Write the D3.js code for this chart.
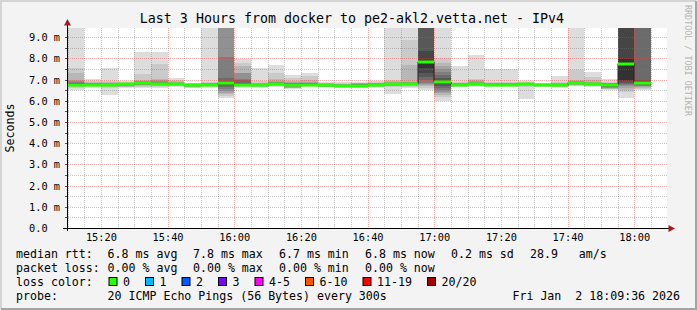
<!DOCTYPE html>
<html>
<head>
<meta charset="utf-8">
<script src="https://cdn.jsdelivr.net/npm/d3@7"></script>
<style>
  html, body { margin: 0; padding: 0; background: #f3f3f3; }
  svg { display: block; font-family: "DejaVu Sans Mono", monospace; }
  text { white-space: pre; }
</style>
</head>
<body>
<svg id="chart" width="697" height="310"></svg>
<script>
var title = "Last 3 Hours from docker to pe2-akl2.vetta.net - IPv4";

// start of each 5 minute step
var binTimes = ["15:10", "15:15", "15:20", "15:25", "15:30", "15:35", "15:40", "15:45", "15:50", "15:55",
    "16:00", "16:05", "16:10", "16:15", "16:20", "16:25", "16:30", "16:35", "16:40", "16:45",
    "16:50", "16:55", "17:00", "17:05", "17:10", "17:15", "17:20", "17:25", "17:30", "17:35",
    "17:40", "17:45", "17:50", "17:55", "18:00"];

// median rtt per step (ms)
var median = [6.76, 6.76, 6.76, 6.77, 6.84, 6.81, 6.78, 6.72, 6.76, 6.83,
    6.76, 6.72, 6.80, 6.76, 6.76, 6.72, 6.70, 6.69, 6.76, 6.78,
    6.80, 7.84, 6.89, 6.76, 6.80, 6.76, 6.76, 6.78, 6.74, 6.72,
    6.85, 6.77, 6.76, 7.75, 6.86];

// 20 sorted ping times per step (ms), used for the smoke
var pings = [
    [6.51, 6.58, 6.64, 6.68, 6.71, 6.73, 6.74, 6.75, 6.76, 6.77, 6.78, 6.80, 6.82, 6.85, 6.90, 6.95, 7.00, 7.33, 7.56, 10.8],
    [6.62, 6.66, 6.69, 6.71, 6.72, 6.73, 6.74, 6.75, 6.76, 6.76, 6.77, 6.78, 6.79, 6.80, 6.82, 6.84, 6.86, 6.88, 6.92, 7.04],
    [6.27, 6.62, 6.66, 6.69, 6.71, 6.72, 6.73, 6.74, 6.75, 6.76, 6.77, 6.78, 6.79, 6.80, 6.81, 6.83, 6.85, 6.88, 6.93, 7.56],
    [6.60, 6.64, 6.67, 6.69, 6.71, 6.72, 6.73, 6.74, 6.75, 6.76, 6.77, 6.78, 6.79, 6.80, 6.81, 6.82, 6.84, 6.86, 6.88, 6.93],
    [6.60, 6.66, 6.70, 6.73, 6.75, 6.77, 6.79, 6.80, 6.82, 6.83, 6.85, 6.86, 6.87, 6.88, 6.90, 6.92, 6.95, 7.00, 7.25, 8.30],
    [6.62, 6.67, 6.70, 6.72, 6.74, 6.76, 6.77, 6.78, 6.79, 6.80, 6.82, 6.83, 6.84, 6.86, 6.88, 6.92, 6.98, 7.04, 7.72, 8.30],
    [6.65, 6.68, 6.70, 6.72, 6.73, 6.74, 6.75, 6.76, 6.77, 6.78, 6.79, 6.80, 6.81, 6.82, 6.84, 6.86, 6.88, 6.92, 6.98, 7.09],
    [6.58, 6.62, 6.65, 6.67, 6.68, 6.69, 6.70, 6.70, 6.71, 6.72, 6.72, 6.73, 6.74, 6.75, 6.76, 6.77, 6.78, 6.80, 6.82, 6.86],
    [6.62, 6.66, 6.69, 6.71, 6.72, 6.73, 6.74, 6.75, 6.76, 6.76, 6.77, 6.78, 6.79, 6.80, 6.81, 6.82, 6.84, 6.86, 6.90, 11.2],
    [6.15, 6.22, 6.30, 6.38, 6.45, 6.55, 6.65, 6.72, 6.78, 6.82, 6.85, 6.88, 6.95, 7.06, 8.05, 10.1, 11.0, 12.4, 13.8, 16.2],
    [6.60, 6.64, 6.68, 6.70, 6.72, 6.73, 6.74, 6.75, 6.76, 6.76, 6.77, 6.79, 6.85, 7.00, 7.04, 7.30, 7.33, 7.64, 7.77, 7.96],
    [6.62, 6.65, 6.67, 6.68, 6.69, 6.70, 6.71, 6.71, 6.72, 6.72, 6.73, 6.74, 6.75, 6.76, 6.78, 6.80, 6.83, 6.86, 6.92, 7.56],
    [6.65, 6.68, 6.70, 6.72, 6.74, 6.76, 6.77, 6.78, 6.79, 6.80, 6.81, 6.82, 6.83, 6.85, 6.87, 6.90, 6.95, 7.04, 7.30, 7.70],
    [6.55, 6.58, 6.60, 6.62, 6.65, 6.68, 6.70, 6.72, 6.74, 6.76, 6.77, 6.78, 6.80, 6.82, 6.84, 6.86, 6.90, 6.93, 7.05, 7.22],
    [6.65, 6.68, 6.70, 6.72, 6.73, 6.74, 6.75, 6.76, 6.76, 6.77, 6.78, 6.79, 6.80, 6.82, 6.84, 6.86, 6.90, 6.98, 7.17, 7.33],
    [6.62, 6.64, 6.66, 6.67, 6.68, 6.69, 6.70, 6.71, 6.72, 6.72, 6.73, 6.74, 6.75, 6.76, 6.77, 6.78, 6.80, 6.82, 6.85, 6.90],
    [6.62, 6.64, 6.65, 6.66, 6.67, 6.68, 6.69, 6.69, 6.70, 6.70, 6.71, 6.72, 6.72, 6.73, 6.74, 6.76, 6.78, 6.80, 6.83, 6.88],
    [6.58, 6.61, 6.63, 6.65, 6.66, 6.67, 6.68, 6.69, 6.69, 6.70, 6.71, 6.72, 6.74, 6.76, 6.78, 6.80, 6.82, 6.84, 6.86, 6.88],
    [6.60, 6.64, 6.67, 6.69, 6.71, 6.72, 6.73, 6.74, 6.75, 6.76, 6.77, 6.78, 6.79, 6.80, 6.81, 6.82, 6.84, 6.86, 6.88, 6.93],
    [6.31, 6.64, 6.68, 6.70, 6.72, 6.73, 6.74, 6.75, 6.77, 6.78, 6.79, 6.80, 6.81, 6.82, 6.84, 6.86, 6.88, 6.92, 6.98, 10.6],
    [6.62, 6.66, 6.70, 6.72, 6.74, 6.76, 6.77, 6.78, 6.79, 6.80, 6.81, 6.82, 6.83, 6.84, 6.86, 6.88, 6.90, 7.67, 8.87, 10.9],
    [6.50, 6.60, 6.70, 6.75, 6.80, 6.86, 6.96, 7.10, 7.33, 7.56, 7.90, 8.35, 9.80, 10.5, 11.2, 12.0, 13.1, 14.5, 16.0, 19.0],
    [6.00, 6.20, 6.28, 6.35, 6.42, 6.50, 6.60, 6.70, 6.80, 6.88, 6.90, 6.95, 7.05, 7.20, 7.35, 7.50, 7.65, 7.80, 8.03, 11.0],
    [6.64, 6.67, 6.70, 6.72, 6.73, 6.74, 6.75, 6.75, 6.76, 6.76, 6.77, 6.78, 6.79, 6.80, 6.81, 6.82, 6.84, 6.86, 6.90, 7.64],
    [6.65, 6.68, 6.71, 6.73, 6.75, 6.76, 6.77, 6.78, 6.79, 6.80, 6.81, 6.82, 6.83, 6.84, 6.86, 6.88, 6.92, 6.98, 7.04, 8.14],
    [6.67, 6.69, 6.71, 6.72, 6.73, 6.74, 6.75, 6.75, 6.76, 6.76, 6.77, 6.78, 6.79, 6.80, 6.81, 6.82, 6.84, 6.86, 6.88, 7.49],
    [6.66, 6.69, 6.71, 6.72, 6.73, 6.74, 6.75, 6.75, 6.76, 6.76, 6.77, 6.78, 6.79, 6.80, 6.81, 6.82, 6.84, 6.86, 6.88, 7.49],
    [6.08, 6.66, 6.70, 6.72, 6.73, 6.74, 6.75, 6.76, 6.77, 6.78, 6.78, 6.79, 6.80, 6.81, 6.82, 6.83, 6.84, 6.86, 6.88, 6.92],
    [6.64, 6.66, 6.68, 6.69, 6.70, 6.71, 6.72, 6.72, 6.73, 6.73, 6.74, 6.74, 6.75, 6.76, 6.77, 6.78, 6.79, 6.80, 6.82, 6.85],
    [6.62, 6.65, 6.67, 6.68, 6.69, 6.70, 6.71, 6.71, 6.72, 6.72, 6.73, 6.74, 6.75, 6.76, 6.78, 6.80, 6.82, 6.85, 6.90, 7.17],
    [6.68, 6.71, 6.74, 6.76, 6.78, 6.80, 6.81, 6.82, 6.83, 6.84, 6.85, 6.86, 6.87, 6.88, 6.90, 6.92, 6.95, 7.00, 7.44, 10.3],
    [6.65, 6.68, 6.70, 6.72, 6.73, 6.74, 6.75, 6.76, 6.77, 6.77, 6.78, 6.79, 6.80, 6.82, 6.84, 6.86, 6.90, 6.96, 7.10, 7.36],
    [6.50, 6.54, 6.57, 6.60, 6.62, 6.64, 6.66, 6.68, 6.70, 6.72, 6.76, 6.78, 6.80, 6.81, 6.82, 6.83, 6.84, 6.86, 6.90, 7.01],
    [6.15, 6.40, 6.50, 6.60, 6.70, 6.75, 6.80, 6.85, 6.95, 7.00, 7.95, 9.80, 10.4, 11.2, 12.5, 13.8, 15.0, 16.5, 18.0, 21.0],
    [6.50, 6.55, 6.60, 6.65, 6.68, 6.70, 6.75, 6.78, 6.80, 6.85, 6.88, 6.92, 7.00, 9.70, 10.5, 11.8, 12.9, 14.5, 16.0, 18.0]
];

var yTicks = [0, 1, 2, 3, 4, 5, 6, 7, 8, 9];
var xLabels = ["15:20", "15:40", "16:00", "16:20", "16:40", "17:00", "17:20", "17:40", "18:00"];

var rttStats = ["6.8 ms avg", "7.8 ms max", "6.7 ms min", "6.8 ms now", "0.2 ms sd", "28.9   am/s"];
var lossStats = ["0.00 % avg", "0.00 % max", "0.00 % min", "0.00 % now"];
var lossNames = ["0", "1", "2", "3", "4-5", "6-10", "11-19", "20/20"];
var lossColors = ["#26ff00", "#00b8ff", "#0059ff", "#7e00ff", "#ff00ff", "#ff5500", "#ff0000", "#a10000"];
var probeText = "20 ICMP Echo Pings (56 Bytes) every 300s";
var stampText = "Fri Jan  2 18:09:36 2026";

function t(s) {
    var p = s.split(":");
    return new Date(2026, 0, 2, +p[0], +p[1]);
}

window.onload = function drawChart() {
    var svg = d3.select("#chart");
    var W = 697, H = 310;
    var left = 67, top = 28, right = 667, bottom = 228;

    var x = d3.scaleTime()
        .domain([new Date(2026, 0, 2, 15, 9, 50), new Date(2026, 0, 2, 18, 9, 50)])
        .range([left, right]);
    var y = d3.scaleLinear().domain([0, 9.43]).range([bottom, top]);

    // frame
    svg.append("rect").attr("width", W).attr("height", H).attr("fill", "#f3f3f3");
    svg.append("path").attr("d", "M1,309V1H696").attr("fill", "none").attr("stroke", "#d4d4d4").attr("stroke-width", 2);
    svg.append("path").attr("d", "M1,309H696V1").attr("fill", "none").attr("stroke", "#a4a4a4").attr("stroke-width", 2);

    svg.append("rect")
        .attr("x", left).attr("y", top)
        .attr("width", right - left).attr("height", bottom - top)
        .attr("fill", "#fff");

    svg.append("clipPath").attr("id", "plot")
        .append("rect").attr("x", left).attr("y", top)
        .attr("width", right - left).attr("height", bottom - top);

    var g = svg.append("g").attr("clip-path", "url(#plot)");

    // smoke: band k goes from ping k to ping 21-k, darker inside
    var bins = binTimes.map(function (s, i) {
        var t0 = t(s);
        return {x0: Math.round(x(t0)), x1: Math.round(x(d3.timeMinute.offset(t0, 5))), p: pings[i], m: median[i]};
    });
    var bands = [];
    bins.forEach(function (b) {
        for (var k = 1; k <= 10; k++) {
            var c = Math.floor(190 / 10 * (10 - k)) + 50;
            bands.push({x0: b.x0, x1: b.x1, lo: b.p[k - 1], hi: b.p[20 - k], color: d3.rgb(c, c, c)});
        }
    });
    g.selectAll("rect.smoke")
        .data(bands)
        .enter().append("rect")
        .attr("class", "smoke")
        .attr("x", function (d) { return d.x0; })
        .attr("width", function (d) { return d.x1 - d.x0; })
        .attr("y", function (d) { return Math.round(y(d.hi)); })
        .attr("height", function (d) { return Math.max(1, Math.round(y(d.lo)) - Math.round(y(d.hi))); })
        .attr("fill", function (d) { return d.color; });

    // grid, drawn as 1px dots
    var minorX = d3.timeMinute.every(5).range(x.domain()[0], x.domain()[1]);
    var hy = d3.range(1, 19).map(function (i) { return i / 2; });
    var majorCol = "rgba(240,60,60,0.42)", minorCol = "rgba(120,120,120,0.42)";
    var dots = [];
    minorX.forEach(function (d) {
        var px = Math.round(x(d));
        var c = d.getMinutes() % 20 == 0 ? majorCol : minorCol;
        for (var py = top; py < bottom; py += 2) dots.push({x: px, y: py, c: c});
    });
    hy.forEach(function (d) {
        var py = Math.round(y(d));
        var c = d % 1 == 0 ? majorCol : minorCol;
        for (var px = left + 1; px < right; px += 2) dots.push({x: px, y: py, c: c});
    });
    g.append("g").selectAll("rect")
        .data(dots)
        .enter().append("rect")
        .attr("x", function (d) { return d.x; })
        .attr("y", function (d) { return d.y; })
        .attr("width", 1).attr("height", 1)
        .attr("fill", function (d) { return d.c; });

    // median: thin dark step line, then loss coloured bars
    var stepPts = bins.map(function (b) { return [b.x0, y(b.m)]; });
    stepPts.push([bins[bins.length - 1].x1, y(bins[bins.length - 1].m)]);
    g.append("path")
        .attr("d", d3.line().curve(d3.curveStepAfter)(stepPts))
        .attr("fill", "none")
        .attr("stroke", "#202020")
        .attr("stroke-width", 1);
    g.selectAll("rect.med")
        .data(bins)
        .enter().append("rect")
        .attr("class", "med")
        .attr("x", function (d) { return d.x0; })
        .attr("width", function (d) { return d.x1 - d.x0; })
        .attr("y", function (d) { return Math.round(y(d.m)) - 1.5; })
        .attr("height", 3)
        .attr("fill", lossColors[0]);

    // axes
    var axisCol = "#000";
    svg.append("line").attr("x1", left + 0.5).attr("x2", left + 0.5).attr("y1", bottom + 3).attr("y2", 23)
        .attr("stroke", axisCol);
    svg.append("line").attr("x1", left - 4).attr("x2", 670).attr("y1", bottom + 0.5).attr("y2", bottom + 0.5)
        .attr("stroke", axisCol);
    svg.append("path").attr("d", "M64,25.5L71,25.5L67.5,19Z").attr("fill", "#a11d1d");
    svg.append("path").attr("d", "M668.5,225L668.5,232L675,228.5Z").attr("fill", "#a11d1d");

    svg.selectAll("line.ytick")
        .data(hy)
        .enter().append("line")
        .attr("x1", left - 2).attr("x2", left)
        .attr("y1", function (d) { return Math.round(y(d)) + 0.5; })
        .attr("y2", function (d) { return Math.round(y(d)) + 0.5; })
        .attr("stroke", "#555");

    var yAxis = svg.append("g")
        .attr("transform", "translate(" + left + ",0)")
        .call(d3.axisLeft(y).tickValues(yTicks).tickSize(0)
            .tickFormat(function (d) { return d == 0 ? "0.0" : d.toFixed(1) + " m"; }));
    yAxis.select(".domain").remove();
    yAxis.selectAll("text")
        .attr("x", 29 - left)
        .attr("dy", "0.34em")
        .attr("text-anchor", "start")
        .attr("font-family", "DejaVu Sans Mono")
        .attr("font-size", "10.3px")
        .attr("fill", "#000");

    var xAxis = svg.append("g")
        .attr("transform", "translate(0," + bottom + ")")
        .call(d3.axisBottom(x).tickValues(xLabels.map(t)).tickSize(0).tickFormat(d3.timeFormat("%H:%M")));
    xAxis.select(".domain").remove();
    xAxis.selectAll("text")
        .attr("y", 13)
        .attr("dy", 0)
        .attr("font-family", "DejaVu Sans Mono")
        .attr("font-size", "10.3px")
        .attr("fill", "#000");

    // titles
    svg.append("text")
        .attr("x", (left + right) / 2 - 15).attr("y", 23)
        .attr("text-anchor", "middle")
        .attr("font-size", "13.3px")
        .text(title);
    svg.append("text")
        .attr("transform", "translate(14,128) rotate(-90)")
        .attr("text-anchor", "middle")
        .attr("font-size", "11.6px")
        .text("Seconds");
    svg.append("text")
        .attr("transform", "translate(685,5) rotate(90)")
        .attr("font-size", "8.4px")
        .attr("fill", "#b4b4b4")
        .text("RRDTOOL / TOBI OETIKER");

    // legend
    var fs = "11.6px", cw = 7.0;
    var col = [107.6, 193, 279, 365, 451, 530];
    var rows = [258, 272, 286, 300];
    function label(txt, xx, yy, anchor) {
        svg.append("text").attr("x", xx).attr("y", yy).attr("font-size", fs)
            .attr("text-anchor", anchor || "start").text(txt);
    }
    label("median rtt:", 16, rows[0]);
    rttStats.forEach(function (s, i) { label(s, col[i], rows[0]); });
    label("packet loss:", 16, rows[1]);
    lossStats.forEach(function (s, i) { label(s, col[i], rows[1]); });
    label("loss color:", 16, rows[2]);
    var bx = 108.5;
    lossNames.forEach(function (s, i) {
        svg.append("rect")
            .attr("x", bx + 0.5).attr("y", rows[2] - 8.5)
            .attr("width", 8).attr("height", 8)
            .attr("fill", lossColors[i]).attr("stroke", "#000");
        label(s, bx + 14.5, rows[2]);
        bx += 29.5 + s.length * cw;
    });
    label("probe:", 16, rows[3]);
    label(probeText, col[0], rows[3]);
    label(stampText, 680, rows[3], "end");
}
</script>
</body>
</html>
